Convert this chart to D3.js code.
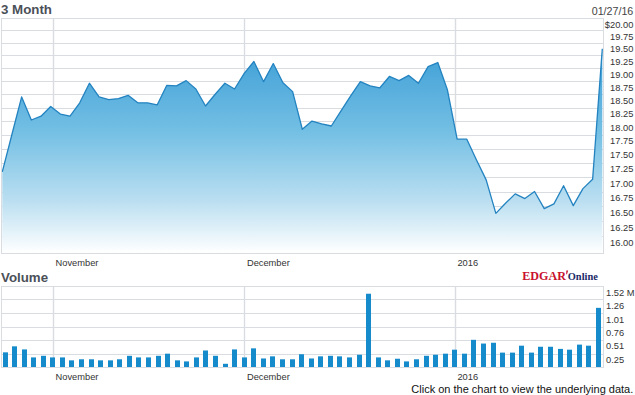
<!DOCTYPE html>
<html><head><meta charset="utf-8">
<script src="https://cdn.jsdelivr.net/npm/d3@7"></script>
<style>body{margin:0;background:#fff}svg{display:block;font-family:"Liberation Sans",Arial,sans-serif}</style>
</head><body><svg id="c" width="635" height="395"></svg>
<script>
const dates = [
 "2015-10-26","2015-10-27","2015-10-28","2015-10-29","2015-10-30",
 "2015-11-02","2015-11-03","2015-11-04","2015-11-05","2015-11-06",
 "2015-11-09","2015-11-10","2015-11-11","2015-11-12","2015-11-13",
 "2015-11-16","2015-11-17","2015-11-18","2015-11-19","2015-11-20",
 "2015-11-23","2015-11-24","2015-11-25","2015-11-27","2015-11-30",
 "2015-12-01","2015-12-02","2015-12-03","2015-12-04",
 "2015-12-07","2015-12-08","2015-12-09","2015-12-10","2015-12-11",
 "2015-12-14","2015-12-15","2015-12-16","2015-12-17","2015-12-18",
 "2015-12-21","2015-12-22","2015-12-23","2015-12-24",
 "2015-12-28","2015-12-29","2015-12-30","2015-12-31",
 "2016-01-04","2016-01-05","2016-01-06","2016-01-07","2016-01-08",
 "2016-01-11","2016-01-12","2016-01-13","2016-01-14","2016-01-15",
 "2016-01-19","2016-01-20","2016-01-21","2016-01-22",
 "2016-01-25","2016-01-26"
];
const prices = [
 17.09, 17.76, 18.45, 18.02, 18.09, 18.27, 18.13, 18.09, 18.34, 18.71,
 18.45, 18.40, 18.42, 18.48, 18.34, 18.34, 18.30, 18.67, 18.66, 18.76,
 18.60, 18.28, 18.50, 18.71, 18.60, 18.90, 19.13, 18.74, 19.09, 18.72,
 18.55, 17.85, 18.00, 17.95, 17.91, 18.19, 18.47, 18.74, 18.66, 18.62,
 18.84, 18.76, 18.86, 18.71, 19.03, 19.11, 18.58, 17.67, 17.67, 17.30,
 16.95, 16.38, 16.55, 16.71, 16.63, 16.75, 16.46, 16.54, 16.85, 16.51,
 16.80, 16.96, 19.38
];
const volumes = [
 0.275, 0.388, 0.33, 0.18, 0.21, 0.18, 0.18, 0.125, 0.145, 0.145,
 0.125, 0.125, 0.145, 0.21, 0.18, 0.18, 0.21, 0.25, 0.125, 0.105,
 0.18, 0.31, 0.21, 0.06, 0.33, 0.18, 0.35, 0.16, 0.20, 0.145,
 0.145, 0.24, 0.16, 0.20, 0.21, 0.20, 0.18, 0.23, 1.375, 0.18,
 0.125, 0.155, 0.105, 0.145, 0.21, 0.23, 0.25, 0.325, 0.25, 0.51,
 0.44, 0.455, 0.27, 0.27, 0.40, 0.27, 0.38, 0.38, 0.34, 0.325,
 0.42, 0.40, 1.11
];
const monthTicks = ["2015-11-02","2015-12-01","2016-01-04"];
const monthLabels = ["November","December","2016"];
const priceTicks = [16,16.25,16.5,16.75,17,17.25,17.5,17.75,18,18.25,18.5,18.75,19,19.25,19.5,19.75,20];
const volumeTicks = [0.2533,0.5067,0.76,1.0133,1.2667,1.52];
const volumeLabels = ["0.25","0.51","0.76","1.01","1.26","1.52 M"];
const titleText = "3 Month", volTitleText = "Volume", dateText = "01/27/16";
const noteText = "Click on the chart to view the underlying data.";

const svg = d3.select("#c");
const L = 1, R = 603, PT = 18, PB = 253, VT = 286, VB = 367;
const gridColor = "#d9dde2";
const crisp = v => Math.round(v) + 0.5;

const xPrice = d3.scalePoint().domain(dates).range([2.3, 602.3]);
const xBar = d3.scalePoint().domain(dates).range([5, 598.3]);
const yPrice = d3.scaleLog().domain([15.73, 20]).range([PB, PT]);
const yVol = d3.scaleLinear().domain([0, 1.52]).range([VB, VT]);

const defs = svg.append("defs");
const grad = defs.append("linearGradient").attr("id","pg")
  .attr("gradientUnits","userSpaceOnUse").attr("x1",0).attr("y1",PT).attr("x2",0).attr("y2",PB);
[[0,"#2a93d1"],[0.48,"#73bfe4"],[0.78,"#bbdff1"],[1,"#ffffff"]].forEach(s =>
  grad.append("stop").attr("offset",s[0]).attr("stop-color",s[1]));

// ---------- price panel ----------
const pg = svg.append("g");
pg.selectAll("line.h").data(priceTicks).join("line")
  .attr("x1",L).attr("x2",R).attr("y1",d=>crisp(yPrice(d))).attr("y2",d=>crisp(yPrice(d)))
  .attr("stroke",gridColor).attr("stroke-width",1);
pg.selectAll("line.v").data(monthTicks).join("line")
  .attr("x1",d=>crisp(xBar(d))).attr("x2",d=>crisp(xBar(d))).attr("y1",PT).attr("y2",PB)
  .attr("stroke",gridColor).attr("stroke-width",1.4);

pg.append("path").datum(prices)
  .attr("d", d3.area().x((d,i)=>xPrice(dates[i])).y0(PB).y1(d=>yPrice(d)))
  .attr("fill","url(#pg)");
pg.append("path").datum(prices)
  .attr("d", d3.line().x((d,i)=>xPrice(dates[i])).y(d=>yPrice(d)))
  .attr("fill","none").attr("stroke","#2383c0").attr("stroke-width",1.3).attr("stroke-linejoin","round");

pg.append("rect").attr("x",crisp(L)).attr("y",crisp(PT)).attr("width",R-L).attr("height",PB-PT)
  .attr("fill","none").attr("stroke",gridColor);

// price axis labels
const pAxis = svg.append("g").attr("transform","translate(633.3,0)")
  .call(d3.axisRight(yPrice).tickValues(priceTicks).tickSize(0)
    .tickFormat(d => d === 20 ? "$20.00" : d3.format(".2f")(d)));
pAxis.select(".domain").remove();
pAxis.selectAll("text").attr("x",0).attr("dy",null).attr("y",9.2)
  .attr("text-anchor","end").attr("fill","#333").style("font-size","9.3px").style("font-family","Liberation Sans, Arial, sans-serif");

// x labels price
const xa1 = svg.append("g").attr("transform",`translate(0,${266.3})`)
  .call(d3.axisBottom(xBar).tickValues(monthTicks).tickSize(0).tickFormat((d,i)=>monthLabels[i]));
xa1.select(".domain").remove();
xa1.selectAll("text").attr("x",2.2).attr("y",0).attr("dy",null).attr("text-anchor","start")
  .attr("fill","#333").style("font-size","9.3px").style("font-family","Liberation Sans, Arial, sans-serif");

// ---------- volume panel ----------
const vg = svg.append("g");
vg.selectAll("line.h").data(volumeTicks).join("line")
  .attr("x1",L).attr("x2",R).attr("y1",d=>crisp(yVol(d))).attr("y2",d=>crisp(yVol(d)))
  .attr("stroke",gridColor).attr("stroke-width",1);
vg.selectAll("line.v").data(monthTicks).join("line")
  .attr("x1",d=>crisp(xBar(d))).attr("x2",d=>crisp(xBar(d))).attr("y1",VT).attr("y2",VB)
  .attr("stroke",gridColor).attr("stroke-width",1.4);
vg.append("rect").attr("x",crisp(L)).attr("y",crisp(VT)).attr("width",R-L).attr("height",VB-VT)
  .attr("fill","none").attr("stroke",gridColor);
vg.selectAll("rect.bar").data(volumes).join("rect")
  .attr("x",(d,i)=>Math.round(xBar(dates[i]) - 2.5)).attr("width",5)
  .attr("y",d=>yVol(d)).attr("height",d=>VB - yVol(d))
  .attr("fill","#168bcc");

const vAxis = svg.append("g").attr("transform","translate(606,0)")
  .call(d3.axisRight(yVol).tickValues(volumeTicks).tickSize(0).tickFormat((d,i)=>volumeLabels[i]));
vAxis.select(".domain").remove();
vAxis.selectAll("text").attr("x",0).attr("dy",null).attr("y",9)
  .attr("text-anchor","start").attr("fill","#333").style("font-size","9.3px").style("font-family","Liberation Sans, Arial, sans-serif");

const xa2 = svg.append("g").attr("transform",`translate(0,${380})`)
  .call(d3.axisBottom(xBar).tickValues(monthTicks).tickSize(0).tickFormat((d,i)=>monthLabels[i]));
xa2.select(".domain").remove();
xa2.selectAll("text").attr("x",2.2).attr("y",0).attr("dy",null).attr("text-anchor","start")
  .attr("fill","#333").style("font-size","9.3px").style("font-family","Liberation Sans, Arial, sans-serif");

// ---------- titles and texts ----------
svg.append("text").attr("x",1).attr("y",13.5).text(titleText)
  .attr("fill","#4b5058").style("font-size","13.3px").style("font-weight","bold");
svg.append("text").attr("x",1).attr("y",281.5).text(volTitleText)
  .attr("fill","#4b5058").style("font-size","13.3px").style("font-weight","bold");
svg.append("text").attr("x",633.3).attr("y",15).attr("text-anchor","end").text(dateText)
  .attr("fill","#444").style("font-size","10.7px");
svg.append("text").attr("x",633.3).attr("y",392.5).attr("text-anchor","end").text(noteText)
  .attr("fill","#111").style("font-size","11px");

// EDGAR Online logo
svg.append("text").attr("x",522.3).attr("y",280.3).text("EDGAR")
  .attr("textLength",43.6).attr("lengthAdjust","spacingAndGlyphs")
  .attr("fill","#c8102e").style("font-family","Liberation Serif, Times New Roman, serif")
  .style("font-size","13px").style("font-weight","bold");
svg.append("path").attr("d","M566.3,270.6 L568.2,270.6 L567.0,274.2 L566.2,274.2 Z").attr("fill","#c8102e");
svg.append("text").attr("x",567.8).attr("y",280.3).text("Online")
  .attr("textLength",30).attr("lengthAdjust","spacingAndGlyphs")
  .attr("fill","#1c2a68").style("font-family","Liberation Serif, Times New Roman, serif")
  .style("font-size","9.5px").style("font-weight","bold");
</script></body></html>
